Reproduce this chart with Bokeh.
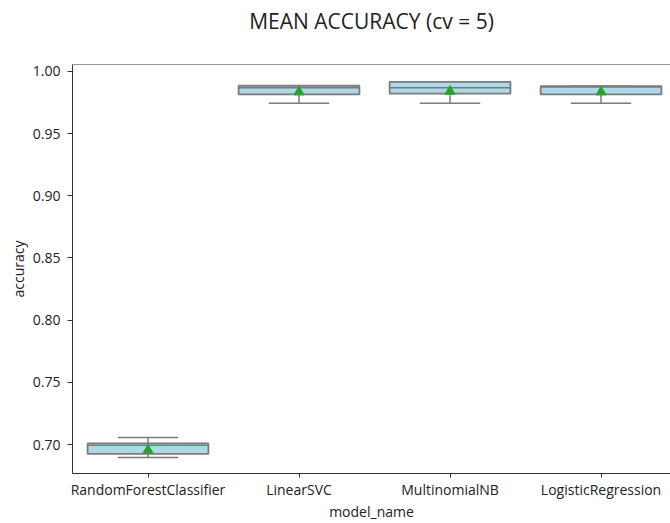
from bokeh.plotting import figure
from bokeh.models import Range1d, FixedTicker, Span, NumeralTickFormatter, Title
from bokeh.embed import file_html
from bokeh.resources import INLINE

models = ["RandomForestClassifier", "LinearSVC", "MultinomialNB", "LogisticRegression"]
whisker_low = [0.6896, 0.9745, 0.9745, 0.9745]
q1 = [0.6925, 0.9815, 0.9821, 0.9815]
median = [0.6995, 0.9870, 0.9869, 0.9875]
q3 = [0.7010, 0.9885, 0.9917, 0.9882]
whisker_high = [0.7056, 0.9885, 0.9917, 0.9882]
means = [0.6955, 0.9835, 0.9840, 0.9835]
y_ticks = [0.70, 0.75, 0.80, 0.85, 0.90, 0.95, 1.00]
title_text = "MEAN ACCURACY (cv = 5)"

FONT = "Open Sans"
EDGE = "#7b7b7b"
xs = list(range(len(models)))
X0, X1 = -0.5, 3.46
Y0, Y1 = 0.6767, 1.0056

p = figure(width=670, height=523, output_backend="svg", toolbar_location=None,
           x_range=Range1d(X0, X1), y_range=Range1d(Y0, Y1),
           min_border_left=72, min_border_right=0, min_border_top=64, min_border_bottom=47)
p.outline_line_color = None
p.grid.visible = False
p.background_fill_color = "white"

# spacer between frame and title, then the title itself
p.add_layout(Title(text=" ", text_font=FONT, text_font_size="21px", standoff=0), "above")
p.add_layout(Title(text=title_text, align="center", text_font=FONT, text_font_size="21px",
                   text_font_style="normal", text_color="#222222", standoff=0), "above")

# whiskers
p.segment(x0=xs, y0=q3, x1=xs, y1=whisker_high, line_color=EDGE, line_width=1.5)
p.segment(x0=xs, y0=q1, x1=xs, y1=whisker_low, line_color=EDGE, line_width=1.5)
cap_l = [x - 0.2 for x in xs]
cap_r = [x + 0.2 for x in xs]
p.segment(x0=cap_l, y0=whisker_high, x1=cap_r, y1=whisker_high, line_color=EDGE, line_width=1.5)
p.segment(x0=cap_l, y0=whisker_low, x1=cap_r, y1=whisker_low, line_color=EDGE, line_width=1.5)
# boxes
p.vbar(x=xs, width=0.8, top=q3, bottom=q1, fill_color="#add8e6", line_color=EDGE, line_width=1.8)
# medians
p.segment(x0=[x - 0.4 for x in xs], y0=median, x1=[x + 0.4 for x in xs], y1=median,
          line_color=EDGE, line_width=1.5)
# means
p.scatter(x=xs, y=means, marker="triangle", size=10, fill_color="#2ca02c", line_color="#2ca02c")

# top spine
p.add_layout(Span(location=Y1, dimension="width", line_color="#333333", line_width=1))

for ax in (p.xaxis[0], p.yaxis[0]):
    ax.axis_line_color = "#333333"
    ax.major_tick_line_color = "#333333"
    ax.major_tick_out = 5
    ax.major_tick_in = 0
    ax.minor_tick_line_color = None
    ax.major_label_text_font = FONT
    ax.major_label_text_font_size = "14px"
    ax.major_label_text_color = "#222222"
    ax.axis_label_text_font = FONT
    ax.axis_label_text_font_size = "14px"
    ax.axis_label_text_font_style = "normal"
    ax.axis_label_text_color = "#222222"

p.xaxis.ticker = FixedTicker(ticks=xs)
p.xaxis.major_label_overrides = {i: m for i, m in enumerate(models)}
p.xaxis.axis_label = "model_name"
p.xaxis.major_tick_out = 4
p.xaxis.axis_label_standoff = 0
p.xaxis.major_label_standoff = 2
p.yaxis.ticker = FixedTicker(ticks=y_ticks)
p.yaxis.formatter = NumeralTickFormatter(format="0.00")
p.yaxis.axis_label = "accuracy"
p.yaxis.axis_label_standoff = 2
p.yaxis.major_label_standoff = 7

open("out.html", "w").write(file_html(p, INLINE))
